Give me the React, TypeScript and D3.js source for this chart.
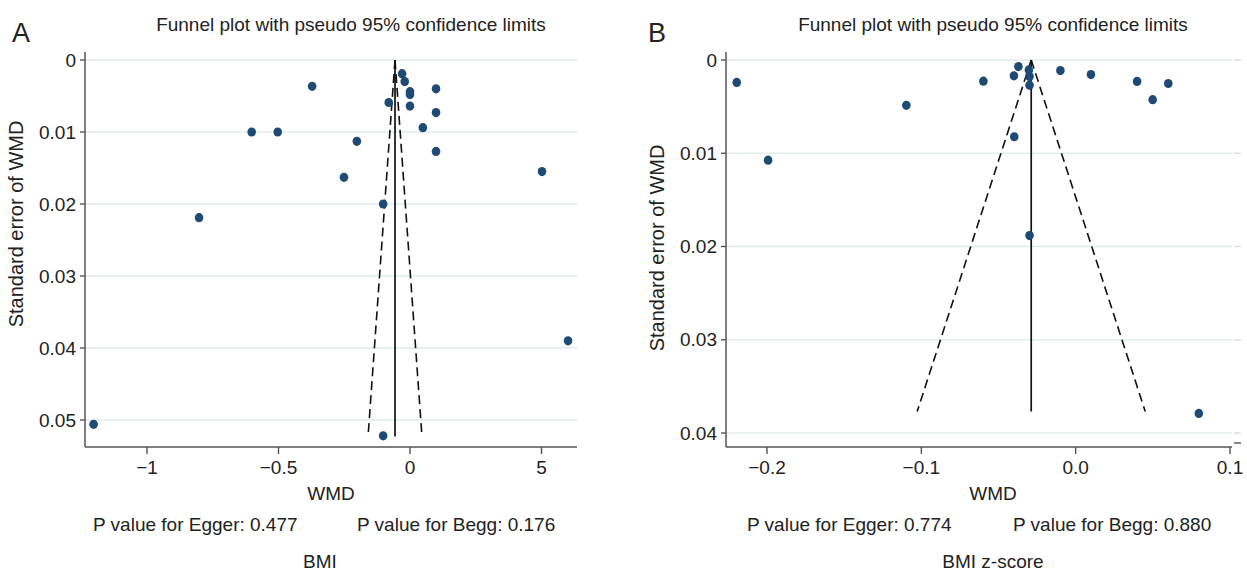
import React from "react";
import * as d3 from "d3";

// ---------- Panel A (BMI) ----------
const wmdA = [-0.372, -0.03, -0.02, 0.0, 0.0, 0.099, -0.081, 0.0, 0.099, 0.049, -0.602, -0.503, -0.202, 0.099, -0.251, 0.502, -0.102, -0.802, 0.601, -1.203, -0.102];
const seA = [0.00365, 0.0019, 0.003, 0.0044, 0.0048, 0.004, 0.0059, 0.0064, 0.0073, 0.0094, 0.01, 0.01, 0.0113, 0.0127, 0.0163, 0.0155, 0.02, 0.0219, 0.039, 0.0506, 0.0522];
const pooledA = -0.057;
const seMaxA = 0.0523;
const xTicksA = [-1, -0.5, 0, 0.5];
const xTickLabelsA = ["\u22121", "\u22120.5", "0", "5"];
const yTicksA = [0, 0.01, 0.02, 0.03, 0.04, 0.05];
const yTickLabelsA = ["0", "0.01", "0.02", "0.03", "0.04", "0.05"];

// ---------- Panel B (BMI z-score) ----------
const wmdB = [-0.2196, -0.1993, -0.1097, -0.0598, -0.04, -0.0371, -0.0303, -0.0299, -0.0299, -0.0398, -0.0299, -0.0099, 0.0099, 0.0398, 0.0499, 0.06, 0.0798];
const seB = [0.00241, 0.01074, 0.00486, 0.00227, 0.0017, 0.00071, 0.00106, 0.00177, 0.0027, 0.00823, 0.01883, 0.00113, 0.00156, 0.0023, 0.00426, 0.00252, 0.0379];
const pooledB = -0.0288;
const seMaxB = 0.0377;
const xTicksB = [-0.2, -0.1, 0, 0.1];
const xTickLabelsB = ["\u22120.2", "\u22120.1", "0.0", "0.1"];
const yTicksB = [0, 0.01, 0.02, 0.03, 0.04];
const yTickLabelsB = ["0", "0.01", "0.02", "0.03", "0.04"];

const FONT = "'Liberation Sans', Arial, Helvetica, sans-serif";
const DOT = "#1f4a73";
const GRID = "#e2ebee";
const AXIS = "#555";

type PanelProps = {
  letter: string;
  letterX: number;
  wmd: number[];
  se: number[];
  pooled: number;
  seMax: number;
  xTicks: number[];
  xTickLabels: string[];
  yTicks: number[];
  yTickLabels: string[];
  x: d3.ScaleLinear<number, number>;
  y: d3.ScaleLinear<number, number>;
  left: number;
  right: number;
  top: number;
  bottom: number;
  yTitleY: number;
  titleX: number;
  wmdX: number;
  captionX: number;
  egger: string;
  begg: string;
  eggerX: number;
  beggX: number;
  caption: string;
  rightTicks?: boolean;
};

function Panel(p: PanelProps) {
  const z = 1.96;
  return (
    <g fontFamily={FONT} fill="#222">
      <text x={p.letterX} y={42} fontSize={27}>{p.letter}</text>
      <text x={p.titleX} y={31} fontSize={19} textAnchor="middle">Funnel plot with pseudo 95% confidence limits</text>
      {/* grid */}
      {p.yTicks.map((t, i) => (
        <line key={"g" + i} x1={p.left + 1} x2={p.right} y1={p.y(t)} y2={p.y(t)} stroke={GRID} strokeWidth={1.6} />
      ))}
      {p.rightTicks && p.yTicks.map((t, i) => (
        <line key={"r" + i} x1={p.right + 2} x2={p.right + 9} y1={p.y(t)} y2={p.y(t)} stroke="#d5dde0" strokeWidth={1.4} />
      ))}
      {p.rightTicks && <line x1={p.right + 2} x2={p.right + 9} y1={p.bottom - 4} y2={p.bottom - 4} stroke={AXIS} strokeWidth={1.4} />}
      {/* axes */}
      <line x1={p.left} x2={p.left} y1={p.top} y2={p.bottom} stroke={AXIS} strokeWidth={1.5} />
      <line x1={p.left} x2={p.right} y1={p.bottom} y2={p.bottom} stroke={AXIS} strokeWidth={1.5} />
      {p.yTicks.map((t, i) => (
        <g key={"y" + i}>
          <line x1={p.left - 5} x2={p.left} y1={p.y(t)} y2={p.y(t)} stroke={AXIS} strokeWidth={1.4} />
          <text x={p.left - 9} y={p.y(t)} dy="0.35em" fontSize={19} textAnchor="end">{p.yTickLabels[i]}</text>
        </g>
      ))}
      {p.xTicks.map((t, i) => (
        <g key={"x" + i}>
          <line x1={p.x(t)} x2={p.x(t)} y1={p.bottom} y2={p.bottom + 7} stroke={AXIS} strokeWidth={1.4} />
          <text x={p.x(t)} y={474} fontSize={19} textAnchor="middle">{p.xTickLabels[i]}</text>
        </g>
      ))}
      <text transform={`translate(${p.left - 62},${p.yTitleY}) rotate(-90)`} fontSize={20} textAnchor="middle">Standard error of WMD</text>
      <text x={p.wmdX} y={500} fontSize={19} textAnchor="middle">WMD</text>
      <text x={p.eggerX} y={531} fontSize={19}>{p.egger}</text>
      <text x={p.beggX} y={531} fontSize={19}>{p.begg}</text>
      <text x={p.captionX} y={568} fontSize={19} textAnchor="middle">{p.caption}</text>
      {/* funnel */}
      <line x1={p.x(p.pooled)} x2={p.x(p.pooled - z * p.seMax)} y1={p.y(0)} y2={p.y(p.seMax)} stroke="#111" strokeWidth={1.6} strokeDasharray="9,5" />
      <line x1={p.x(p.pooled)} x2={p.x(p.pooled + z * p.seMax)} y1={p.y(0)} y2={p.y(p.seMax)} stroke="#111" strokeWidth={1.6} strokeDasharray="9,5" />
      <line x1={p.x(p.pooled)} x2={p.x(p.pooled)} y1={p.y(0)} y2={p.y(p.seMax)} stroke="#111" strokeWidth={1.7} />
      {/* points */}
      {p.wmd.map((v, i) => (
        <ellipse key={"p" + i} cx={p.x(v)} cy={p.y(p.se[i])} rx={4.3} ry={4.6} fill={DOT} />
      ))}
    </g>
  );
}

export default function App() {
  const xA = d3.scaleLinear().domain([-1, 0]).range([147, 410]);
  const yA = d3.scaleLinear().domain([0, 0.05]).range([60, 420]);
  const xB = d3.scaleLinear().domain([-0.2, 0.1]).range([767, 1230]);
  const yB = d3.scaleLinear().domain([0, 0.04]).range([60, 433]);
  return (
    <svg width={1247} height={573} style={{ position: "absolute", left: 0, top: 0, background: "#fff" }}>
      <rect width={1247} height={573} fill="#fff" />
      <Panel letter="A" letterX={12} wmd={wmdA} se={seA} pooled={pooledA} seMax={seMaxA}
        xTicks={xTicksA} xTickLabels={xTickLabelsA} yTicks={yTicksA} yTickLabels={yTickLabelsA}
        x={xA} y={yA} left={85} right={577} top={52} bottom={447} yTitleY={224}
        titleX={351} wmdX={331} captionX={320}
        egger="P value for Egger: 0.477" begg="P value for Begg: 0.176" eggerX={93} beggX={357} caption="BMI" />
      <Panel letter="B" letterX={648} wmd={wmdB} se={seB} pooled={pooledB} seMax={seMaxB}
        xTicks={xTicksB} xTickLabels={xTickLabelsB} yTicks={yTicksB} yTickLabels={yTickLabelsB}
        x={xB} y={yB} left={726} right={1232} top={52} bottom={447} yTitleY={248}
        titleX={993} wmdX={993} captionX={993}
        egger="P value for Egger: 0.774" begg="P value for Begg: 0.880" eggerX={747} beggX={1013} caption="BMI z-score" rightTicks />
    </svg>
  );
}
